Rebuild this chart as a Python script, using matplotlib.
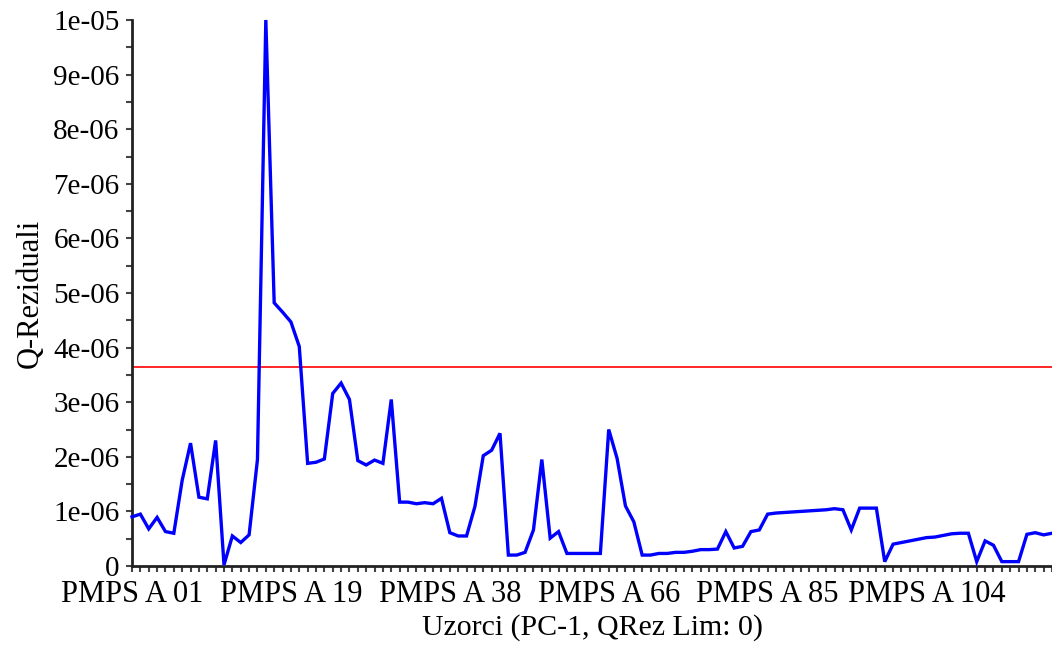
import matplotlib
matplotlib.use("Agg")
import matplotlib.pyplot as plt
from matplotlib.ticker import FixedLocator, MultipleLocator

# Q-residual values (units of 1e-06)
q_resid_e6 = [
    0.90, 0.95, 0.68, 0.89, 0.63, 0.60, 1.57, 2.25, 1.26, 1.23,
    2.30, 0.02, 0.55, 0.43, 0.57, 1.95, 10.0, 4.82, 4.65, 4.47,
    4.02, 1.88, 1.90, 1.96, 3.16, 3.35, 3.05, 1.93, 1.85, 1.94,
    1.88, 3.05, 1.17, 1.17, 1.14, 1.16, 1.14, 1.24, 0.61, 0.55,
    0.55, 1.09, 2.02, 2.12, 2.43, 0.20, 0.20, 0.25, 0.66, 1.95,
    0.51, 0.63, 0.23, 0.23, 0.23, 0.23, 0.23, 2.50, 1.97, 1.10,
    0.81, 0.20, 0.20, 0.23, 0.23, 0.25, 0.25, 0.27, 0.30, 0.30,
    0.31, 0.63, 0.33, 0.36, 0.63, 0.66, 0.95, 0.97, 0.98, 0.99,
    1.00, 1.01, 1.02, 1.03, 1.05, 1.03, 0.66, 1.06, 1.06, 1.06,
    0.08, 0.40, 0.43, 0.46, 0.49, 0.52, 0.53, 0.56, 0.59, 0.60,
    0.60, 0.08, 0.46, 0.38, 0.08, 0.08, 0.08, 0.58, 0.61, 0.57,
    0.60,
]
q_limit_e6 = 3.65

label_positions = [0, 19, 38, 57, 76, 95]
label_texts = ["PMPS A 01", "PMPS A 19", "PMPS A 38", "PMPS A 66", "PMPS A 85", "PMPS A 104"]
y_tick_values = [0, 1e-06, 2e-06, 3e-06, 4e-06, 5e-06, 6e-06, 7e-06, 8e-06, 9e-06, 1e-05]
y_tick_texts = ["0", "1e-06", "2e-06", "3e-06", "4e-06", "5e-06", "6e-06", "7e-06", "8e-06", "9e-06", "1e-05"]

plt.rcParams['font.family'] = ['Liberation Serif', 'DejaVu Serif']

fig = plt.figure(figsize=(10.52, 6.51), dpi=100)
ax = fig.add_axes([132/1052, 1 - 566/651, 1 - 132/1052, (566 - 20)/651])

xs = list(range(len(q_resid_e6)))
ys = [v * 1e-06 for v in q_resid_e6]
ax.plot(xs, ys, color='#0000ff', linewidth=2.4, solid_joinstyle='miter', clip_on=False, zorder=3)
ax.axhline(q_limit_e6 * 1e-06, color='#ff0000', linewidth=1.2, zorder=2)

ax.set_xlim(0, len(q_resid_e6) - 1)
ax.set_ylim(0, 1e-05)

ax.xaxis.set_major_locator(FixedLocator(label_positions))
ax.set_xticklabels(label_texts)
ax.xaxis.set_minor_locator(MultipleLocator(1))
ax.yaxis.set_major_locator(FixedLocator(y_tick_values))
ax.set_yticklabels(y_tick_texts)
ax.yaxis.set_minor_locator(MultipleLocator(0.5e-06))

for s in ['top', 'right']:
    ax.spines[s].set_visible(False)
for s in ['left', 'bottom']:
    ax.spines[s].set_linewidth(2.0)
    ax.spines[s].set_color('#222222')

ax.tick_params(axis='both', which='both', direction='out', color='#444444', width=1.5, length=4)
ax.tick_params(axis='x', which='major', labelsize=22, pad=6)
ax.tick_params(axis='y', which='major', labelsize=21, pad=5)

ax.set_xlabel("Uzorci (PC-1, QRez Lim: 0)", fontsize=21.5, labelpad=4)
ax.set_ylabel("Q-Reziduali", fontsize=22, labelpad=6)

fig.savefig("out.png", dpi=100)
